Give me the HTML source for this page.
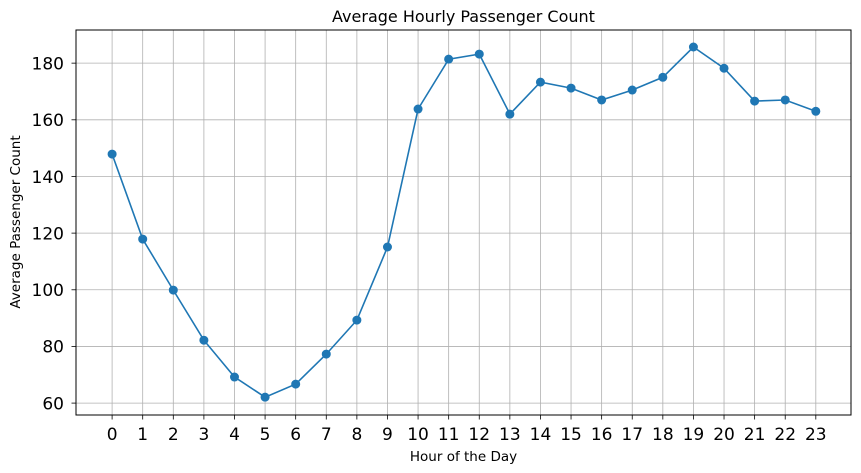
<!DOCTYPE html>
<html><head><meta charset="utf-8">
<style>
html,body{margin:0;padding:0;background:#fff;}
svg{display:block;font-family:"DejaVu Sans","Liberation Sans",sans-serif;}
</style></head>
<body>
<svg id="chart" width="861" height="473" viewBox="0 0 861 473" xmlns="http://www.w3.org/2000/svg">
<rect width="861" height="473" fill="#fff"/>
<g id="grid"></g>
<g id="ticks"></g>
<g id="series"></g>
<rect x="76" y="30" width="775" height="385" fill="none" stroke="#000" stroke-width="1"/>
<text x="463.5" y="22" text-anchor="middle" font-size="16">Average Hourly Passenger Count</text>
<text x="463.5" y="461" text-anchor="middle" font-size="13.5">Hour of the Day</text>
<text transform="translate(20,222) rotate(-90)" text-anchor="middle" font-size="13.5">Average Passenger Count</text>
</svg>
<script>
const hours = [0,1,2,3,4,5,6,7,8,9,10,11,12,13,14,15,16,17,18,19,20,21,22,23];
const passengers = [147.9,117.9,99.9,82.2,69.2,62.1,66.7,77.3,89.3,115.1,163.8,181.4,183.2,162,173.3,171.2,167,170.5,175,185.7,178.2,166.6,167,163];
const yTicks = [60,80,100,120,140,160,180];

const L=76,R=851,T=30,B=415;
const xMin=-1.18,xMax=24.15,yMin=55.8,yMax=191.7;
const xs=v=>L+(v-xMin)/(xMax-xMin)*(R-L);
const ys=v=>B-(v-yMin)/(yMax-yMin)*(B-T);
const NS="http://www.w3.org/2000/svg";
const grid=document.getElementById('grid'),ticks=document.getElementById('ticks'),series=document.getElementById('series');
function mk(tag,attrs,parent){const e=document.createElementNS(NS,tag);for(const k in attrs)e.setAttribute(k,attrs[k]);parent.appendChild(e);return e;}

hours.forEach(h=>{
  const x=xs(h);
  const g=mk('line',{x1:x,x2:x,y1:T,y2:B,stroke:'#b0b0b0','stroke-width':0.8},grid);
  
  
  const t=mk('line',{x1:x,x2:x,y1:B,y2:B+4.5,stroke:'#000','stroke-width':0.8},ticks);
  
  
  const l=mk('text',{x:x,y:440,'text-anchor':'middle','font-size':17},ticks);
  l.textContent=h;
  
  
});
yTicks.forEach(v=>{
  const y=ys(v);
  const g=mk('line',{x1:L,x2:R,y1:y,y2:y,stroke:'#b0b0b0','stroke-width':0.8},grid);
  
  
  const t=mk('line',{x1:L-4.5,x2:L,y1:y,y2:y,stroke:'#000','stroke-width':0.8},ticks);
  
  
  const l=mk('text',{x:L-12,y:y+6.3,'text-anchor':'end','font-size':17},ticks);
  l.textContent=v;
  
  
});
const pts=hours.map((h,i)=>xs(h).toFixed(1)+','+ys(passengers[i]).toFixed(1)).join(' ');
const line=mk('polyline',{points:pts,fill:'none',stroke:'#1f77b4','stroke-width':1.6},series);


hours.forEach((h,i)=>{
  const c=mk('circle',{cx:xs(h),cy:ys(passengers[i]),r:4.5,fill:'#1f77b4'},series);
  
  
});
</script>
</body></html>
